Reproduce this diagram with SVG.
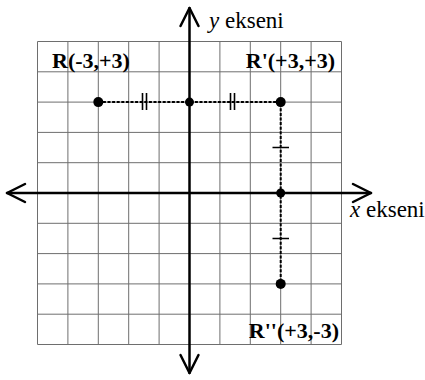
<svg xmlns="http://www.w3.org/2000/svg" width="425" height="380" viewBox="0 0 425 380">
<style>
.grid{stroke:#6e6e6e;stroke-width:1;fill:none}
.axis{stroke:#000;stroke-width:2.5;fill:none;stroke-linecap:round;stroke-linejoin:round}
.dash{stroke:#000;stroke-width:2;stroke-dasharray:3,1.6;fill:none}
.tick{stroke:#000;stroke-width:1.6;fill:none}
.pt{fill:#000}
text{font-family:'Liberation Serif','DejaVu Serif',serif;font-size:22px;fill:#000}
.lbl{font-weight:bold}
.ax{font-size:23px}
</style>
<rect width="425" height="380" fill="#fff"/>
<g id="grid" class="grid">
<path d="M37.5 41.5V344.5M67.9 41.5V344.5M98.3 41.5V344.5M128.7 41.5V344.5M159.1 41.5V344.5M219.9 41.5V344.5M250.3 41.5V344.5M280.7 41.5V344.5M311.1 41.5V344.5M341.5 41.5V344.5"/>
<path d="M37.5 41.5H341.5M37.5 71.8H341.5M37.5 102.1H341.5M37.5 132.4H341.5M37.5 162.7H341.5M37.5 223.3H341.5M37.5 253.6H341.5M37.5 283.9H341.5M37.5 314.2H341.5M37.5 344.5H341.5"/>
</g>
<g id="axes" class="axis">
<path d="M189.5 8V373"/>
<path d="M180.5 26L189.5 8L198.5 26"/>
<path d="M180.5 355L189.5 373L198.5 355"/>
<path d="M7 193H371"/>
<path d="M25 184L7 193L25 202"/>
<path d="M353 184L371 193L353 202"/>
</g>
<g id="connectors">
<path class="dash" d="M98.3 102.1H280.7V283.9"/>
<path class="tick" d="M142.5 93V110M146.5 93V110M230.5 93V110M234.5 93V110"/>
<path class="tick" d="M272.5 147.5H289M272.5 238.5H289"/>
</g>
<g id="R"><circle class="pt" cx="98.3" cy="102.1" r="5"/><text class="lbl" x="52" y="68">R(-3,+3)</text></g>
<g id="O"><circle class="pt" cx="189.5" cy="102.1" r="4.5"/></g>
<g id="R1"><circle class="pt" cx="280.7" cy="102.1" r="5"/><text class="lbl" x="335" y="68" text-anchor="end">R'(+3,+3)</text></g>
<g id="X"><circle class="pt" cx="280.7" cy="193" r="4.5"/></g>
<g id="R2"><circle class="pt" cx="280.7" cy="283.9" r="5"/><text class="lbl" x="339" y="338" text-anchor="end">R''(+3,-3)</text></g>
<g id="ylabel"><text class="ax" x="209" y="27.5"><tspan font-style="italic">y</tspan> ekseni</text></g>
<g id="xlabel"><text class="ax" x="350" y="217"><tspan font-style="italic">x</tspan> ekseni</text></g>
</svg>
